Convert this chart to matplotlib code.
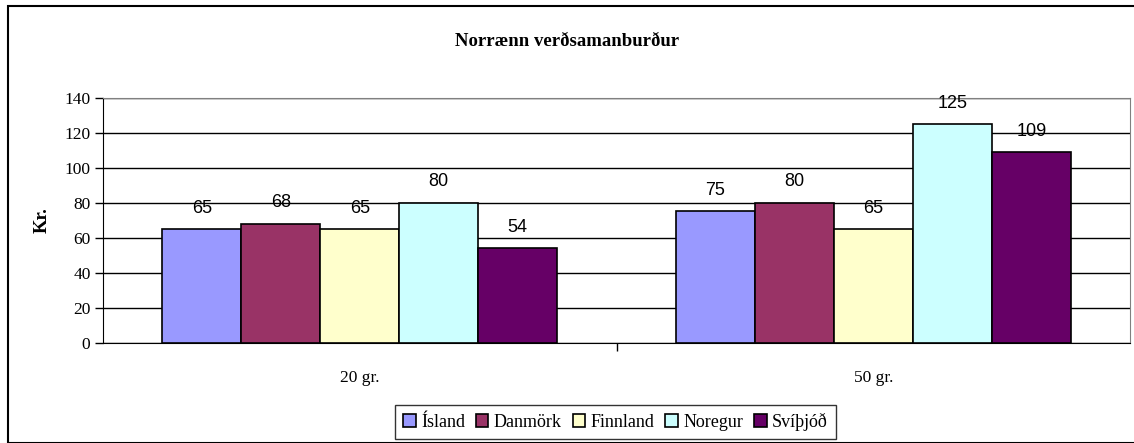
import numpy as np
import matplotlib.pyplot as plt
from matplotlib.patches import Rectangle

# gögn
flokkar = ['20 gr.', '50 gr.']
lond = ['Ísland', 'Danmörk', 'Finnland', 'Noregur', 'Svíþjóð']
verd = {
    'Ísland': [65, 75],
    'Danmörk': [68, 80],
    'Finnland': [65, 65],
    'Noregur': [80, 125],
    'Svíþjóð': [54, 109],
}
litir = ['#9999ff', '#993366', '#ffffcc', '#ccffff', '#660066']
y_ticks = [0, 20, 40, 60, 80, 100, 120, 140]

serif = 'Liberation Serif'
sans = 'Liberation Sans'

W, H = 1134, 443
fig = plt.figure(figsize=(W / 100, H / 100), dpi=100)

# ytri rammi
fig.patches.append(Rectangle((8 / W, 0), 1.2, 1 - 6 / H, transform=fig.transFigure,
                             fill=False, edgecolor='black', linewidth=1.5))

ax = fig.add_axes([103 / W, 1 - 343 / H, (1130 - 103) / W, (343 - 97.5) / H])

x = np.arange(len(flokkar))
bw = 1 / 6.5
for i, land in enumerate(lond):
    pos = x + (i - 2) * bw
    bars = ax.bar(pos, verd[land], bw, color=litir[i], edgecolor='black',
                  linewidth=1.2, label=land, zorder=3)
    for b, v in zip(bars, verd[land]):
        ax.text(b.get_x() + b.get_width() / 2, v + 7, str(v), ha='center',
                va='bottom', fontsize=13, family=sans, zorder=4)

ax.set_xlim(-0.5, 1.5)
ax.set_ylim(0, 140)
ax.set_yticks(y_ticks)
ax.set_yticklabels([str(t) for t in y_ticks], family=serif, fontsize=12.5)
ax.yaxis.grid(True, color='black', linewidth=1)
ax.set_axisbelow(True)

ax.set_xticks([0.5])
ax.set_xticklabels([''])
ax.tick_params(axis='x', length=6, width=1, color='black')
ax.tick_params(axis='y', length=6, width=1, color='black', pad=3)
for i, f in enumerate(flokkar):
    ax.text(x[i], -0.11, f, transform=ax.get_xaxis_transform(), ha='center',
            va='top', family=serif, fontsize=12.5)

ax.spines['left'].set_color('black')
ax.spines['bottom'].set_color('black')
ax.spines['top'].set_color('#808080')
ax.spines['right'].set_color('#808080')

ax.set_ylabel('Kr.', family=serif, fontsize=13.5, fontweight='bold', labelpad=10)

fig.text(0.5, 1 - 42 / H, 'Norrænn verðsamanburður', ha='center', va='center',
         family=serif, fontsize=13.5, fontweight='bold')

leg = fig.legend(loc='center', bbox_to_anchor=(615.5 / W, 1 - 422 / H), ncol=5,
                 frameon=True, fancybox=False, edgecolor='black',
                 prop={'family': serif, 'size': 13}, handlelength=0.7,
                 handleheight=0.7, handletextpad=0.3, columnspacing=0.6,
                 borderpad=0.45)
leg.get_frame().set_linewidth(1)

fig.savefig('out.png', dpi=100)
